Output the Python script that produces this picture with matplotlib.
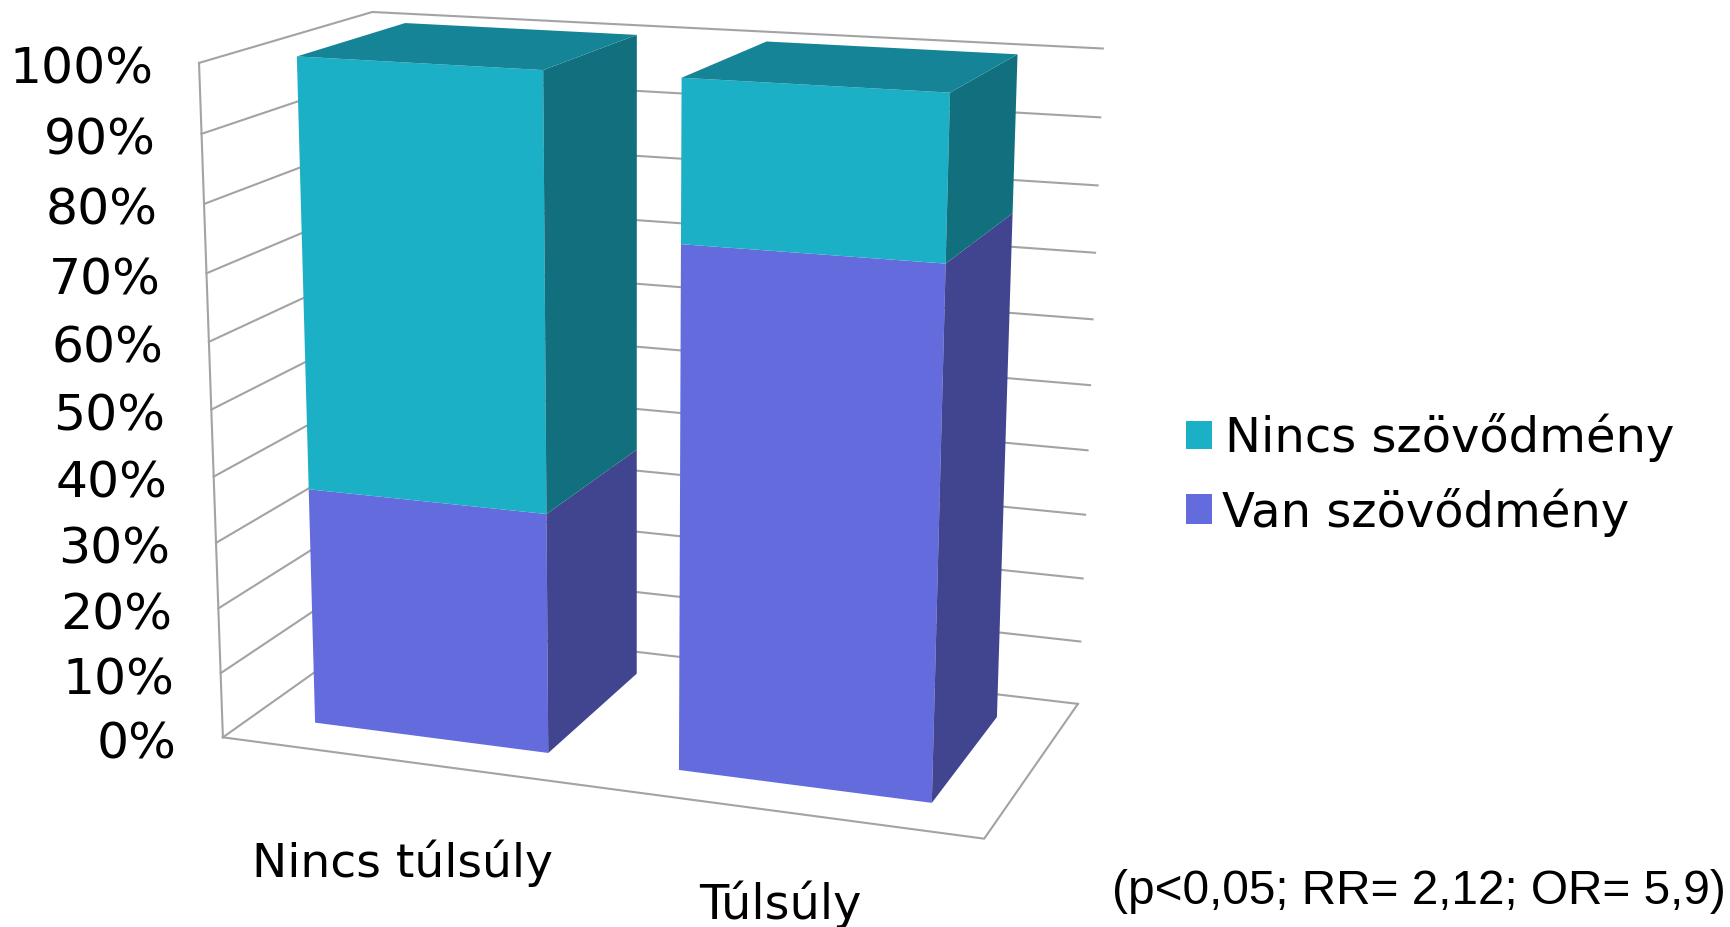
#! /usr/bin/env python

# Szövődmények aránya túlsúly szerint, 3D oszlopdiagram saját vetítéssel

import numpy as np
import matplotlib
matplotlib.use('Agg')
import matplotlib.pyplot as plt

kategoriak = ['Nincs túlsúly', 'Túlsúly']
van_szovodmeny = [36.3, 77]
nincs_szovodmeny = [63.7, 23]
tengely_cimkek = ['0%', '10%', '20%', '30%', '40%', '50%', '60%', '70%', '80%', '90%', '100%']
tengely_ertekek = [0, 10, 20, 30, 40, 50, 60, 70, 80, 90, 100]
sorozat_nevek = ['Nincs szövődmény', 'Van szövődmény']
megjegyzes = '(p<0,05; RR= 2,12; OR= 5,9)'

# kamera: a doboz sarkai (x, y, z egység) és helyük a képen
doboz = np.array([[0, 0, 0], [0, 1, 0], [0, 1, 1], [0, 0, 1], [1, 1, 1], [1, 0, 1], [1, 0, 0],
                  [0, .5, 0], [1, .5, 1]], dtype=float)
kep = np.array([[222.8, 736.7], [198.3, 63.3], [372.6, 11.7], [385, 623], [1102.7, 48.7],
                [1077.7, 703.3], [984.3, 839.3], [212, 409.3], [1090.3, 385]])

sorok = []
for (x, y, z), (u, v) in zip(doboz, kep / 1000):
    sorok.append([x, y, z, 1, 0, 0, 0, 0, -u*x, -u*y, -u*z, -u])
    sorok.append([0, 0, 0, 0, x, y, z, 1, -v*x, -v*y, -v*z, -v])
kamera = np.linalg.svd(np.array(sorok))[2][-1].reshape(3, 4)


def vetit(x, ertek, z):
    p = kamera @ np.array([x, ertek / 100, z, 1])
    return p[0] / p[2] * 1000, p[1] / p[2] * 1000


kozepek = [0.2495, 0.7495]
szelesseg = 0.1625
z_eleje, z_hatul = 0.18, 0.828

SZIN_RACS = '#a3a3a3'
TEAL = ('#1cb0c6', '#126f7e', '#168497')
LILA = ('#636bdd', '#41448f', '#636bdd')

f = plt.figure(figsize=(17.3, 9.27), dpi=100)
ax = f.add_axes([0, 0, 1, 1])
ax.set_xlim(0, 1730)
ax.set_ylim(927, 0)
ax.axis('off')


def vonal(*pontok):
    xs, ys = zip(*[vetit(*p) for p in pontok])
    ax.plot(xs, ys, color=SZIN_RACS, linewidth=1.5, solid_capstyle='projecting', zorder=1)


# rácsvonalak a bal és a hátsó falon
for t in tengely_ertekek:
    vonal((0, t, 0), (0, t, 1), (1, t, 1))
vonal((0, 0, 0), (1, 0, 0), (1, 0, 1))
vonal((0, 0, 0), (0, 100, 0))

for t, c in zip(tengely_ertekek, tengely_cimkek):
    x, y = vetit(0, t, 0)
    ax.text(x - 46, y + 7, c, fontsize=36.3, ha='right', va='center', color='black', zorder=5)


def lap(pontok, szin, z):
    ax.fill(*zip(*[vetit(*p) for p in pontok]), color=szin, linewidth=0, zorder=z)


def oszlop(kozep, also, felso, szinek, teteje):
    x0, x1 = kozep - szelesseg, kozep + szelesseg
    lap([(x0, also, z_eleje), (x1, also, z_eleje), (x1, felso, z_eleje), (x0, felso, z_eleje)], szinek[0], 3)
    lap([(x1, also, z_eleje), (x1, also, z_hatul), (x1, felso, z_hatul), (x1, felso, z_eleje)], szinek[1], 3)
    if teteje:
        lap([(x0, felso, z_eleje), (x1, felso, z_eleje), (x1, felso, z_hatul), (x0, felso, z_hatul)], szinek[2], 3)


for i in range(len(kategoriak)):
    oszlop(kozepek[i], 0, van_szovodmeny[i], LILA, False)
    oszlop(kozepek[i], van_szovodmeny[i], van_szovodmeny[i] + nincs_szovodmeny[i], TEAL, True)

# kategória feliratok
ax.text(402, 877, kategoriak[0], fontsize=34, ha='center', va='baseline')
ax.text(780, 919, kategoriak[1], fontsize=34.5, ha='center', va='baseline')

# jelmagyarázat
ax.add_patch(plt.Rectangle((1186, 421), 26, 28, color=TEAL[0], linewidth=0))
ax.add_patch(plt.Rectangle((1186, 494), 26, 30, color=LILA[0], linewidth=0))
ax.text(1225, 452, sorozat_nevek[0], fontsize=34.6, ha='left', va='baseline')
ax.text(1222, 527, sorozat_nevek[1], fontsize=34.6, ha='left', va='baseline')

ax.text(1112, 904, megjegyzes, fontsize=34.4, family='Liberation Sans', ha='left', va='baseline')

f.savefig('out.png', dpi=100)
